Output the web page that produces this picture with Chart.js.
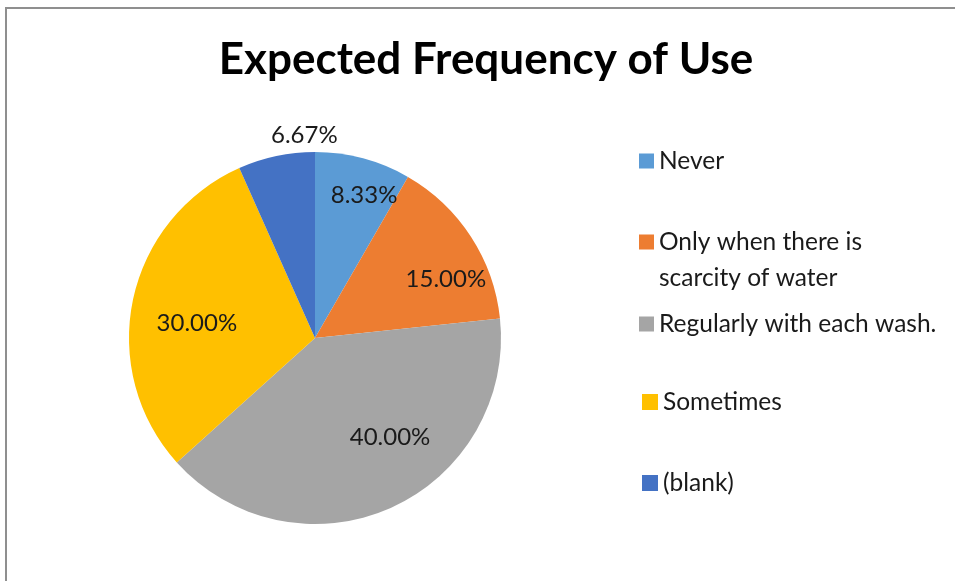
<!DOCTYPE html>
<html>
<head>
<meta charset="utf-8">
<script src="https://cdn.jsdelivr.net/npm/chart.js@4.4.1/dist/chart.umd.min.js"></script>
<style>
    html, body { margin: 0; padding: 0; background: #fff; }
    #wrap { position: relative; width: 955px; height: 581px; overflow: hidden; }
    #frame {
        position: absolute; left: 5px; top: 7px; width: 1000px; height: 620px;
        border-top: 2px solid #8f8f8f; border-left: 2px solid #8f8f8f;
    }
    #pie { position: absolute; left: 0; top: 0; }
</style>
</head>
<body>
<div id="wrap">
    <div id="frame"></div>
    <canvas id="pie" width="955" height="581"></canvas>
</div>
<script>
// Data
const categories = ['Never', ['Only when there is', 'scarcity of water'], 'Regularly with each wash.', 'Sometimes', '(blank)'];
const shares = [8.33, 15.00, 40.00, 30.00, 6.67];
const sliceColors = ['#5B9BD5', '#ED7D31', '#A5A5A5', '#FFC000', '#4472C4'];

// Layout bits (not data)
const labelPlace = [[0.81, 4], [0.77, 9], [0.67, -13], [0.64, -5], [1.09, 9]]; // radius fraction, angle nudge (deg)
const legendRows = [161, 260, 324, 402, 483];
const legendBoxX = [639, 639, 639, 642, 642];
const legendBoxSize = [15, 15, 15, 16, 16];

const FONT = 'Lato, "Open Sans", sans-serif';

const decorations = {
    id: 'decorations',
    afterDraw(chart) {
        const ctx = chart.ctx;
        ctx.save();

        // title
        ctx.fillStyle = '#000';
        ctx.font = 'bold 44px ' + FONT;
        ctx.textAlign = 'center';
        ctx.textBaseline = 'middle';
        ctx.fillText('Expected Frequency of Use', 486, 60);

        // slice labels
        ctx.font = '24px ' + FONT;
        ctx.fillStyle = '#1a1a1a';
        chart.getDatasetMeta(0).data.forEach((arc, i) => {
            const p = arc.getProps(['x', 'y', 'startAngle', 'endAngle', 'outerRadius'], true);
            const a = (p.startAngle + p.endAngle) / 2 + labelPlace[i][1] * Math.PI / 180;
            const r = p.outerRadius * labelPlace[i][0];
            ctx.fillText(shares[i].toFixed(2) + '%', p.x + Math.cos(a) * r, p.y + Math.sin(a) * r);
        });

        // legend
        ctx.font = '24.5px ' + FONT;
        ctx.textAlign = 'left';
        categories.forEach((cat, i) => {
            const lines = Array.isArray(cat) ? cat : [cat];
            const lh = 36;
            const top = legendRows[i] - (lines.length - 1) * lh / 2;
            const s = legendBoxSize[i];
            ctx.fillStyle = sliceColors[i];
            ctx.fillRect(legendBoxX[i], top - s / 2, s, s);
            ctx.fillStyle = '#1a1a1a';
            lines.forEach((ln, k) => {
                ctx.fillText(ln, legendBoxX[i] + s + 5, top + k * lh);
            });
        });
        ctx.restore();
    }
};

new Chart(document.getElementById('pie'), {
    type: 'pie',
    data: {
        labels: categories,
        datasets: [{
            data: shares,
            backgroundColor: sliceColors,
            borderWidth: 0
        }]
    },
    options: {
        responsive: false,
        animation: false,
        layout: { padding: { left: 129, top: 152, right: 454, bottom: 57 } },
        plugins: {
            legend: { display: false },
            title: { display: false },
            tooltip: { enabled: false }
        }
    },
    plugins: [decorations]
});
</script>
</body>
</html>
